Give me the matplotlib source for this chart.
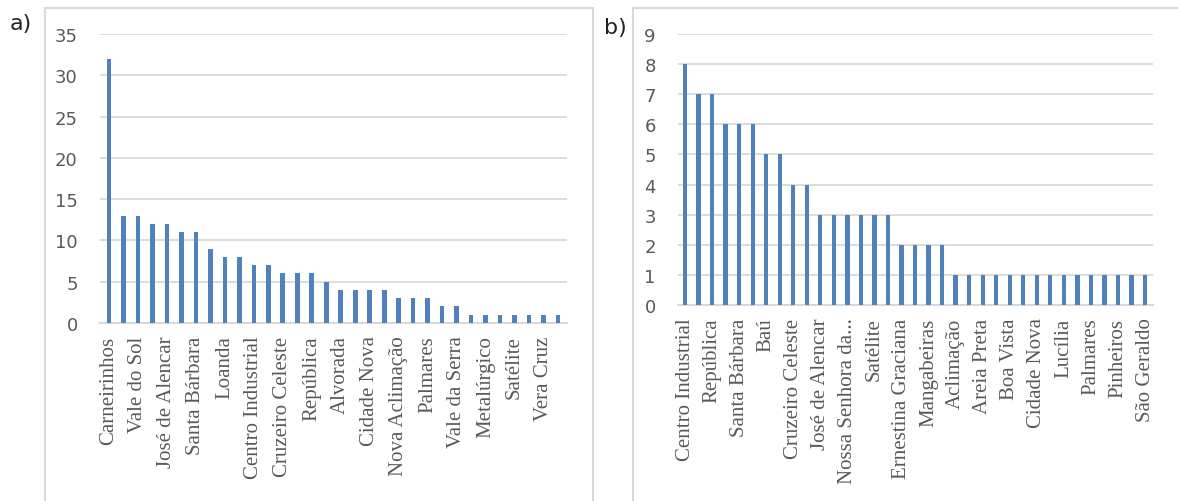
import matplotlib.pyplot as plt
import matplotlib.patches as mpatches
import numpy as np

# (a) values per neighbourhood, only every other label is shown in the original
vals_a = [32, 13, 13, 12, 12, 11, 11, 9, 8, 8, 7, 7, 6, 6, 6, 5,
          4, 4, 4, 4, 3, 3, 3, 2, 2, 1, 1, 1, 1, 1, 1, 1]
labels_a = ["Carneirinhos", "Vale do Sol", "José de Alencar", "Santa Bárbara",
            "Loanda", "Centro Industrial", "Cruzeiro Celeste", "República",
            "Alvorada", "Cidade Nova", "Nova Aclimação", "Palmares",
            "Vale da Serra", "Metalúrgico", "Satélite", "Vera Cruz"]

# (b)
vals_b = [8, 7, 7, 6, 6, 6, 5, 5, 4, 4, 3, 3, 3, 3, 3, 3, 2, 2, 2, 2,
          1, 1, 1, 1, 1, 1, 1, 1, 1, 1, 1, 1, 1, 1, 1]
labels_b = ["Centro Industrial", "República", "Santa Bárbara", "Baú",
            "Cruzeiro Celeste", "José de Alencar", "Nossa Senhora da...",
            "Satélite", "Ernestina Graciana", "Mangabeiras", "Aclimação",
            "Areia Preta", "Boa Vista", "Cidade Nova", "Lucília", "Palmares",
            "Pinheiros", "São Geraldo"]

W, H = 1178, 502
fig = plt.figure(figsize=(W/100, H/100), dpi=100)

blue = "#4F81BD"
grid = "#D9D9D9"
txt = "#595959"

def px(x0, y0, x1, y1):
    # pixel box -> figure fraction [left, bottom, width, height]
    return [x0/W, 1-y1/H, (x1-x0)/W, (y1-y0)/H]

# panel frames
fig.patches.append(mpatches.Rectangle((45/W, -0.1), (593-45)/W, 1.1-9/H,
                   transform=fig.transFigure, fill=False, ec=grid, lw=1.5))
fig.patches.append(mpatches.Rectangle((633/W, -0.1), 0.5, 1.1-9/H,
                   transform=fig.transFigure, fill=False, ec=grid, lw=1.5))

def panel(ax, vals, labels, ymax, step, xl):
    x = np.arange(len(vals))
    ax.bar(x, vals, width=0.32, color=blue, zorder=3)
    ax.set_ylim(0, ymax)
    ax.set_xlim(*xl)
    ax.set_yticks(np.arange(0, ymax+1, step))
    ax.yaxis.grid(True, color=grid, lw=1.3, zorder=0)
    for s in ["top", "right", "left"]:
        ax.spines[s].set_visible(False)
    ax.spines["bottom"].set_color(grid)
    ax.spines["bottom"].set_linewidth(1.5)
    ax.set_xticks(x[::2])
    ax.set_xticklabels(labels, rotation=90, family="Liberation Serif",
                       fontsize=15, color=txt)
    ax.tick_params(axis="both", length=0)
    ax.tick_params(axis="x", pad=9)
    ax.tick_params(axis="y", pad=16, labelsize=13, labelcolor=txt)

ax1 = fig.add_axes(px(100, 35, 567, 324))
panel(ax1, vals_a, labels_a, 35, 5, (-0.62, 31.62))

ax2 = fig.add_axes(px(678, 35, 1153, 306))
panel(ax2, vals_b, labels_b, 9, 1, (-0.52, 34.59))

fig.text(10/W, 1-30/H, "a)", fontsize=16, color="#222222")
fig.text(604/W, 1-34/H, "b)", fontsize=16, color="#222222")

plt.savefig("out.png", dpi=100)
